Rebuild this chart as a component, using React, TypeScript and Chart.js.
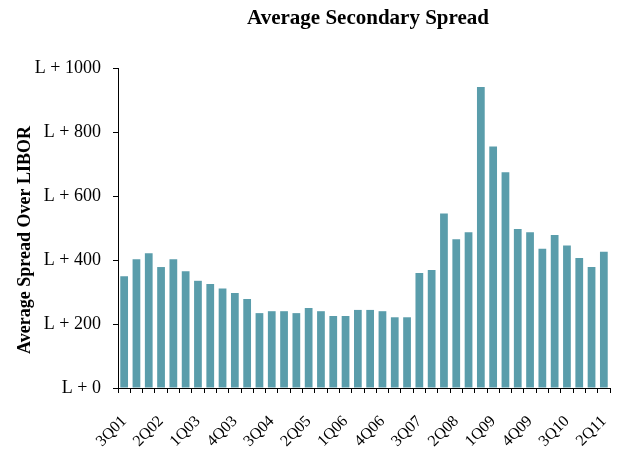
import React, { useEffect, useRef } from 'react';
import { Chart, registerables } from 'chart.js';

Chart.register(...registerables);

const categories: string[] = [
  '3Q01', '4Q01',
  '1Q02', '2Q02', '3Q02', '4Q02',
  '1Q03', '2Q03', '3Q03', '4Q03',
  '1Q04', '2Q04', '3Q04', '4Q04',
  '1Q05', '2Q05', '3Q05', '4Q05',
  '1Q06', '2Q06', '3Q06', '4Q06',
  '1Q07', '2Q07', '3Q07', '4Q07',
  '1Q08', '2Q08', '3Q08', '4Q08',
  '1Q09', '2Q09', '3Q09', '4Q09',
  '1Q10', '2Q10', '3Q10', '4Q10',
  '1Q11', '2Q11',
];

const spreadValues: number[] = [
  349, 402, 421, 378, 402, 365, 335, 325, 311, 297,
  278, 234, 240, 240, 234, 250, 240, 225, 225, 244,
  244, 240, 221, 221, 359, 369, 545, 465, 487, 941,
  755, 674, 497, 487, 435, 478, 445, 406, 378, 426,
];

const yTickValues: number[] = [0, 200, 400, 600, 800, 1000];
const yTickPrefix = 'L + ';

const chartTitle = 'Average Secondary Spread';
const yAxisTitle = 'Average Spread Over LIBOR';

const SERIF = '"Liberation Serif", "Times New Roman", serif';

const titlesPlugin = {
  id: 'customTitles',
  afterDraw(chart: any) {
    const { ctx, chartArea } = chart;
    ctx.save();
    ctx.fillStyle = '#000';
    ctx.textAlign = 'center';
    ctx.textBaseline = 'middle';
    ctx.font = `bold 21px ${SERIF}`;
    ctx.fillText(chartTitle, (chartArea.left + chartArea.right) / 2 + 4, 19);
    ctx.translate(25, 240);
    ctx.rotate(-Math.PI / 2);
    ctx.font = `bold 18px ${SERIF}`;
    ctx.fillText(yAxisTitle, 0, 0);
    ctx.restore();
  },
};

export default function App() {
  const ref = useRef<HTMLCanvasElement>(null);
  useEffect(() => {
    document.body.style.margin = '0';
    const chart = new Chart(ref.current as HTMLCanvasElement, {
      type: 'bar',
      data: {
        labels: categories,
        datasets: [
          {
            data: spreadValues,
            backgroundColor: '#5A9DAB',
            borderWidth: 0,
            barPercentage: 0.63,
            categoryPercentage: 1,
          },
        ],
      },
      options: {
        animation: false,
        responsive: false,
        layout: { padding: { left: 0, right: 11, top: 68, bottom: 0 } },
        plugins: {
          legend: { display: false },
          tooltip: { enabled: false },
          title: { display: false },
        },
        scales: {
          x: {
            grid: {
              display: true,
              drawOnChartArea: false,
              drawTicks: true,
              tickLength: 5,
              color: '#000',
              offset: true,
            },
            border: { display: true, color: '#000', width: 1 },
            ticks: {
              autoSkip: false,
              maxRotation: 45,
              minRotation: 45,
              padding: 19,
              color: '#000',
              font: { family: SERIF, size: 16 },
              callback: (_v: any, i: number) => (i % 3 === 0 ? categories[i] : ''),
            },
            afterFit: (s: any) => {
              s.height = 64;
              s.paddingLeft = 0;
              s.paddingRight = 0;
            },
          },
          y: {
            min: 0,
            max: 1000,
            afterBuildTicks: (s: any) => {
              s.ticks = yTickValues.map((v) => ({ value: v }));
            },
            grid: {
              display: true,
              drawOnChartArea: false,
              drawTicks: true,
              tickLength: 5,
              color: '#000',
            },
            border: { display: true, color: '#000', width: 1 },
            ticks: {
              padding: 12,
              color: '#000',
              font: { family: SERIF, size: 18 },
              callback: (v: any) => yTickPrefix + v,
            },
            afterFit: (s: any) => {
              s.width = 118;
            },
          },
        },
      },
      plugins: [titlesPlugin],
    });
    return () => chart.destroy();
  }, []);
  return <canvas ref={ref} width={621} height={452} style={{ display: 'block' }} />;
}
